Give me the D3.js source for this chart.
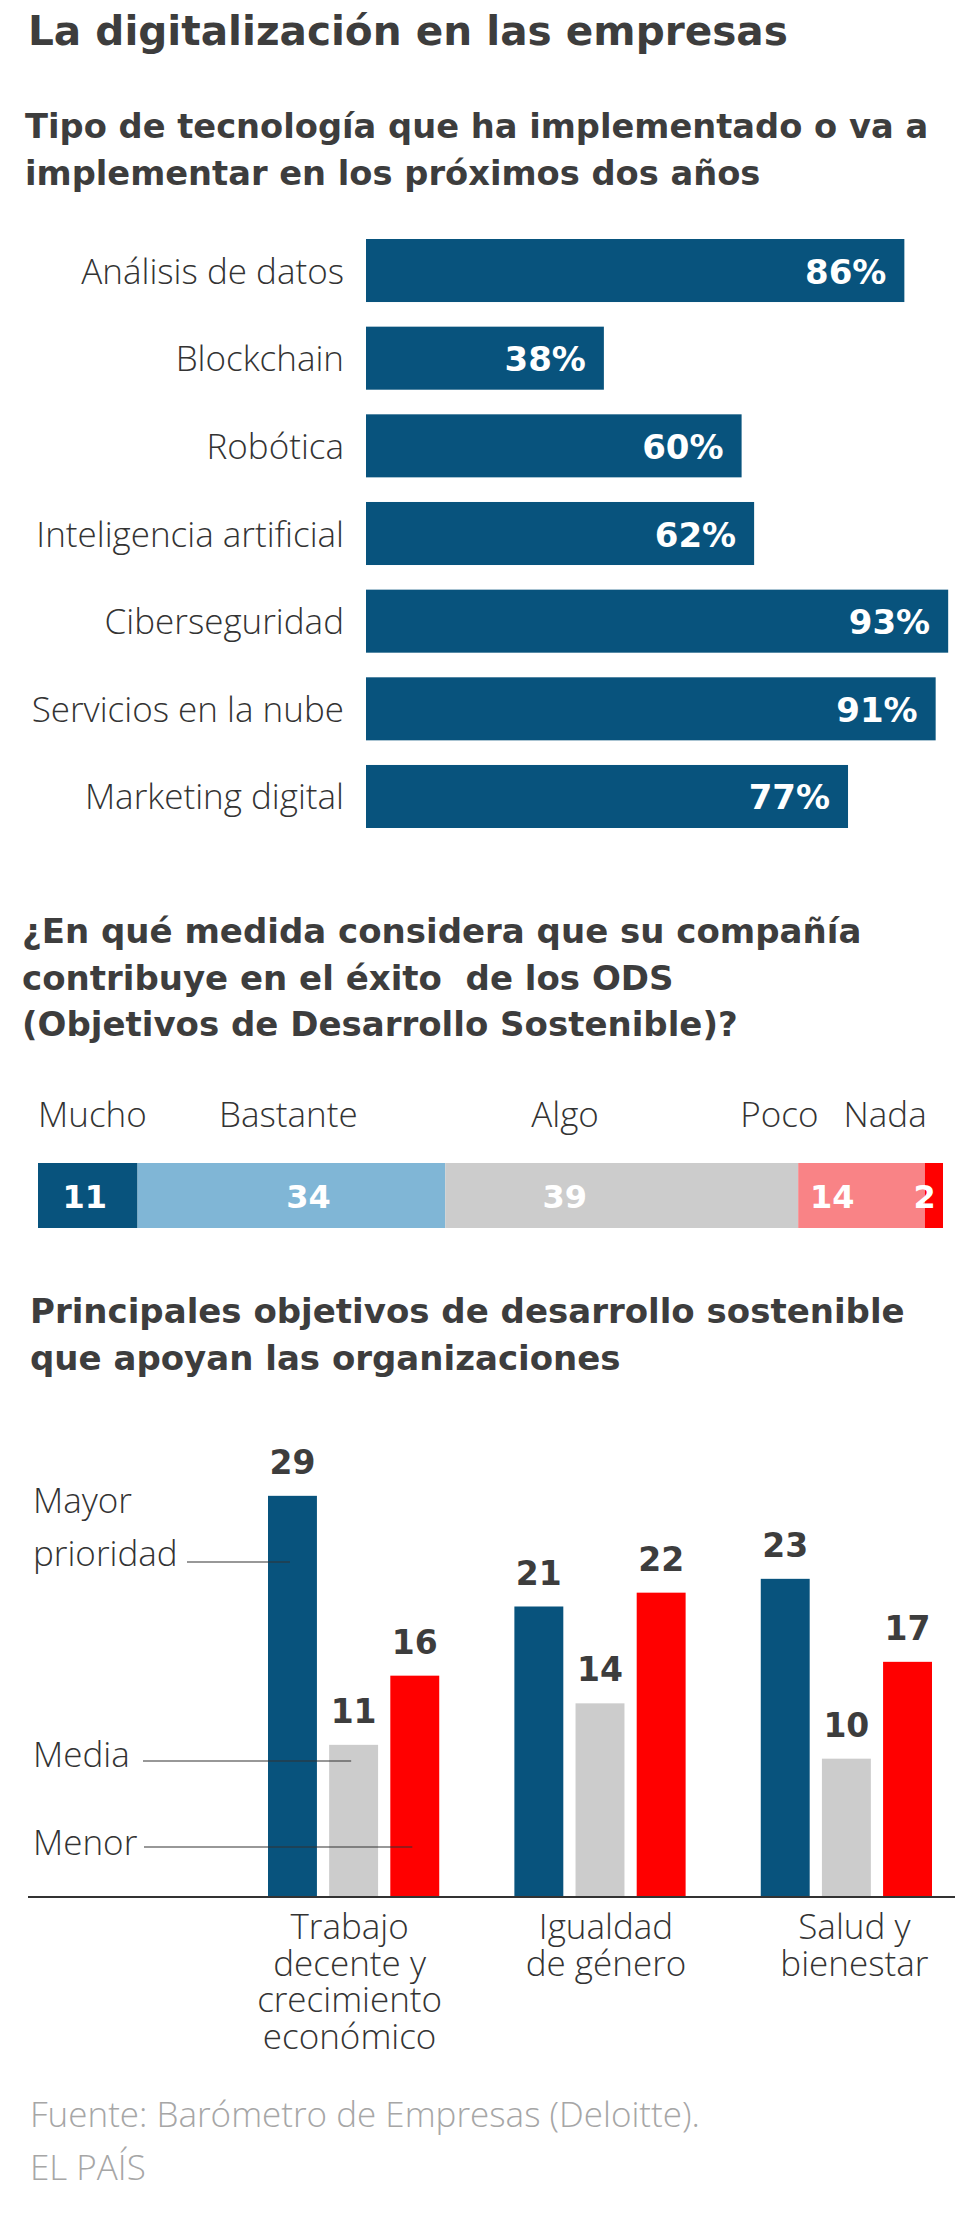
<!DOCTYPE html>
<html><head><meta charset="utf-8">
<script src="https://cdn.jsdelivr.net/npm/d3@7"></script>
<style>
body{margin:0;background:#fff;}
svg text.b{font-family:"DejaVu Sans",Roboto,sans-serif;font-weight:700;}
svg text.l{font-family:"Open Sans",Roboto,sans-serif;font-weight:300;}
</style></head><body>
<svg id="c" width="980" height="2213"></svg>
<script>
// ---------- DATA ----------
const techCategories = ["Análisis de datos","Blockchain","Robótica","Inteligencia artificial","Ciberseguridad","Servicios en la nube","Marketing digital"];
const techValues = [86,38,60,62,93,91,77];

const odsCategories = ["Mucho","Bastante","Algo","Poco","Nada"];
const odsValues = [11,34,39,14,2];

const goalGroups = ["Trabajo decente y crecimiento económico","Igualdad de género","Salud y bienestar"];
const goalGroupLines = [["Trabajo","decente y","crecimiento","económico"],["Igualdad","de género"],["Salud y","bienestar"]];
const prioritySeries = ["Mayor prioridad","Media","Menor"];
const mayorValues = [29,21,23];
const mediaValues = [11,14,10];
const menorValues = [16,22,17];

// ---------- STYLE ----------
const C = {
  dark:"#08537d", light:"#80b6d6", gray:"#cccccc", pink:"#f98386", red:"#ff0000",
  text:"#333333", title:"#3d3d3d", foot:"#a6a6a6"
};
const svg = d3.select("#c");
const LS = 35; // light text size

function txt(x,y,s,size,cls,fill,anchor){
  return svg.append("text").attr("class",cls).attr("x",x).attr("y",y).text(s)
    .attr("font-size",size).attr("fill",fill)
    .attr("text-anchor",anchor||"start");
}
function multi(x,y,lines,dy,size,cls,fill,anchor){
  const t = svg.append("text").attr("class",cls).attr("x",x).attr("y",y)
    .attr("font-size",size).attr("fill",fill).attr("text-anchor",anchor||"start");
  lines.forEach((l,k)=>t.append("tspan").attr("x",x).attr("y",y+k*dy).text(l));
  return t;
}

// ---------- MAIN TITLE ----------
txt(28,45,"La digitalización en las empresas",40.6,"b",C.title);

// ---------- CHART 1 ----------
multi(25,138,["Tipo de tecnología que ha implementado o va a","implementar en los próximos dos años"],47,33.7,"b",C.title);

const y1 = d3.scaleBand().domain(techCategories).range([239,828]).paddingInner(0.281).paddingOuter(0);
const x1 = d3.scaleLinear().domain([0,100]).range([366,992]);
const g1 = svg.append("g");
g1.selectAll("rect").data(techCategories).join("rect")
  .attr("x",x1(0)).attr("y",d=>y1(d))
  .attr("width",(d,i)=>x1(techValues[i])-x1(0)).attr("height",y1.bandwidth())
  .attr("fill",C.dark);
g1.selectAll("text.cat").data(techCategories).join("text").attr("class","l")
  .attr("x",344).attr("y",d=>y1(d)+y1.bandwidth()/2+13)
  .attr("text-anchor","end").attr("font-size",LS).attr("fill",C.text)
  .text(d=>d);
g1.selectAll("text.val").data(techCategories).join("text").attr("class","b")
  .attr("x",(d,i)=>x1(techValues[i])-18).attr("y",d=>y1(d)+y1.bandwidth()/2+13)
  .attr("text-anchor","end").attr("font-size",34).attr("fill","#fff")
  .text((d,i)=>techValues[i]+"%");

// ---------- CHART 2 ----------
multi(22,943,["¿En qué medida considera que su compañía","contribuye en el éxito\u00a0 de los ODS","(Objetivos de Desarrollo Sostenible)?"],46.5,34,"b",C.title);

const x2 = d3.scaleLinear().domain([0,100]).range([38,943]);
const odsColors = [C.dark,C.light,C.gray,C.pink,C.red];
const cum = []; odsValues.reduce((a,v,i)=>{cum[i]=a; return a+v;},0);
const g2 = svg.append("g");
g2.selectAll("rect").data(odsCategories).join("rect")
  .attr("x",(d,i)=>x2(cum[i])).attr("y",1163)
  .attr("width",(d,i)=>x2(cum[i]+odsValues[i])-x2(cum[i])).attr("height",65)
  .attr("fill",(d,i)=>odsColors[i]);
// header placement (data units along the bar) and anchors
const headerAt = [[0,"start"],[20,"start"],[54.5,"start"],[77.6,"start"],[98.2,"end"]];
g2.selectAll("text.hdr").data(odsCategories).join("text").attr("class","l")
  .attr("x",(d,i)=>x2(headerAt[i][0])).attr("y",1127)
  .attr("text-anchor",(d,i)=>headerAt[i][1])
  .attr("font-size",LS).attr("fill",C.text).text(d=>d);
const numAt = [[2.7,"start"],[29.9,"middle"],[58.2,"middle"],[85.3,"start"],[99.2,"end"]];
g2.selectAll("text.num").data(odsCategories).join("text").attr("class","b")
  .attr("x",(d,i)=>x2(numAt[i][0])).attr("y",1208)
  .attr("text-anchor",(d,i)=>numAt[i][1])
  .attr("font-size",32).attr("fill","#fff").text((d,i)=>odsValues[i]);

// ---------- CHART 3 ----------
multi(30,1323,["Principales objetivos de desarrollo sostenible","que apoyan las organizaciones"],47,34,"b",C.title);

const x3 = d3.scaleBand().domain(goalGroups).range([268,932]).paddingInner(0.305).paddingOuter(0);
const xs = d3.scaleBand().domain(prioritySeries).range([0,x3.bandwidth()]).paddingInner(0.2).paddingOuter(0);
const y3 = d3.scaleLinear().domain([0,30]).range([1897,1482]);
const seriesValues = [mayorValues,mediaValues,menorValues];
const seriesColors = [C.dark,C.gray,C.red];
const g3 = svg.append("g");
const grp = g3.selectAll("g.grp").data(goalGroups).join("g").attr("class","grp")
  .attr("transform",d=>`translate(${x3(d)},0)`);
const cells = (d,gi)=>prioritySeries.map((s,si)=>({s,si,v:seriesValues[si][gi]}));
grp.selectAll("rect").data(cells).join("rect")
  .attr("x",d=>xs(d.s)).attr("y",d=>y3(d.v)).attr("width",xs.bandwidth())
  .attr("height",d=>y3(0)-y3(d.v)).attr("fill",d=>seriesColors[d.si]);
grp.selectAll("text.v").data(cells).join("text").attr("class","b")
  .attr("x",d=>xs(d.s)+xs.bandwidth()/2).attr("y",d=>y3(d.v)-22)
  .attr("text-anchor","middle").attr("font-size",33).attr("fill",C.title)
  .text(d=>d.v);
// axis baseline
g3.append("line").attr("x1",28).attr("x2",955).attr("y1",y3(0)).attr("y2",y3(0))
  .attr("stroke","#333").attr("stroke-width",2);
// category labels (multi-line, one text element each)
const catShift = [-4,6,8];
goalGroupLines.forEach((lines,gi)=>{
  const cx = x3(goalGroups[gi])+x3.bandwidth()/2+catShift[gi];
  multi(cx,1939,lines,36.5,LS,"l",C.text,"middle");
});
// series annotations pointing at first group
const gi0 = goalGroups[0];
const ann = [
  {lines:["Mayor","prioridad"], ty:1513, lx:187, ly:1562, si:0},
  {lines:["Media"], ty:1767, lx:143, ly:1761, si:1},
  {lines:["Menor"], ty:1855, lx:144, ly:1847, si:2}
];
ann.forEach(a=>{
  multi(33,a.ty,a.lines,53,LS,"l",C.text);
  const endX = x3(gi0)+xs(prioritySeries[a.si])+xs.bandwidth()*0.45;
  g3.append("line").attr("x1",a.lx).attr("x2",endX).attr("y1",a.ly).attr("y2",a.ly)
    .attr("stroke","#333").attr("stroke-width",1.2);
});

// ---------- FOOTER ----------
multi(30,2127,["Fuente: Barómetro de Empresas (Deloitte).","EL PAÍS"],53,LS,"l",C.foot);
</script>
</body></html>
